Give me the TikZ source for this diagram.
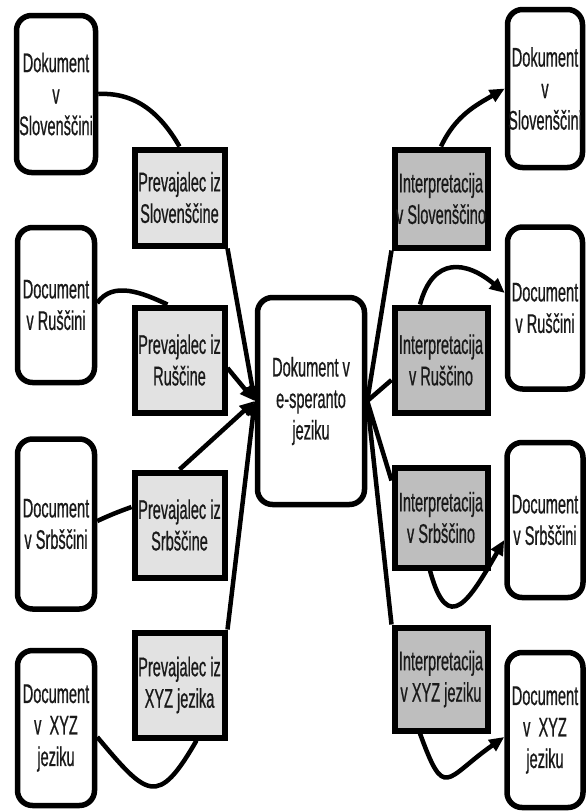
\documentclass[tikz,border=0pt]{standalone}
\usepackage{fontspec}
\setmainfont[FakeStretch=0.54,FakeBold=0.6]{Liberation Sans}
\usetikzlibrary{arrows.meta}
\definecolor{lightg}{HTML}{E2E2E2}
\definecolor{darkg}{HTML}{BEBEBE}
\definecolor{txt}{HTML}{1A1A1A}
\begin{document}
\begin{tikzpicture}[x=1pt,y=1pt,
  lbl/.style={align=center, inner sep=0pt, text=txt, font=\fontsize{27}{31.5}\selectfont},
  doc/.style={lbl, draw=black, line width=5.5pt, rounded corners=15pt, fill=white},
  prev/.style={lbl, draw=black, line width=6pt, fill=lightg, minimum width=90},
  interp/.style={prev, fill=darkg, minimum width=93},
  conn/.style={line width=4.5pt},
  arr/.style={conn, -{Triangle[length=15pt,width=13pt]}}]
\useasboundingbox (0,0) rectangle (587,-812);

% left documents
\node[doc, minimum width=79, minimum height=157] (L1) at (56,-94) {Dokument\\v\\Slovenščini};
\node[doc, minimum width=77, minimum height=155] (L2) at (56,-305) {Document\\v Ruščini};
\node[doc, minimum width=77, minimum height=170] (L3) at (56,-524) {Document\\v Srbščini};
\node[doc, minimum width=77, minimum height=155] (L4) at (56,-728) {Document\\v~ XYZ\\jeziku};

% right documents
\node[doc, minimum width=75, minimum height=158] (R1) at (545,-88.5) {Dokument\\v\\Slovenščini};
\node[doc, minimum width=75, minimum height=162] (R2) at (545,-308) {Document\\v Ruščini};
\node[doc, minimum width=76, minimum height=155] (R3) at (545,-520) {Document\\v Srbščini};
\node[doc, minimum width=76, minimum height=155] (R4) at (545,-730) {Document\\v~ XYZ\\jeziku};

% centre
\node[doc, minimum width=107, minimum height=207] (C) at (311,-401) {Dokument v\\e-speranto\\jeziku};

% translators
\node[prev, minimum height=96]  (P1) at (179.5,-197.5) {Prevajalec iz\\Slovenščine};
\node[prev, minimum height=105] (P2) at (179.5,-360) {Prevajalec iz\\Ruščine};
\node[prev, minimum height=105] (P3) at (179.5,-525) {Prevajalec iz\\Srbščine};
\node[prev, minimum height=105] (P4) at (179.5,-685) {Prevajalec iz\\XYZ jezika};

% interpreters
\node[interp, minimum height=98]  (I1) at (441,-198.5) {Interpretacija\\v Slovenščino};
\node[interp, minimum height=105] (I2) at (441,-360) {Interpretacija\\v Ruščino};
\node[interp, minimum height=100] (I3) at (441,-517.5) {Interpretacija\\v Srbščino};
\node[interp, minimum height=103] (I4) at (441,-679) {Interpretacija\\v XYZ jeziku};

% left connectors
\draw[conn] (L1.east) to[out=3,in=120] (P1.north);
\draw[arr] (P1.south east) -- (C.west);
\draw[conn] ([yshift=2pt]L2.east) to[out=55,in=155] ([xshift=-12pt]P2.north);
\draw[arr] ([yshift=-8pt]P2.east) -- (C.west);
\draw[conn] ([yshift=3pt]L3.east) to[out=25,in=200] ([yshift=18pt]P3.west);
\draw[arr] (P3.north) -- (C.west);
\draw[arr] (P4.north east) -- (C.west);
\draw[conn] ([yshift=-9pt]L4.east) to[out=-50,in=-120,looseness=2] ([xshift=17pt]P4.south);

% right connectors
\draw[conn] (C.east) -- (I1.south west);
\draw[arr] (I1.north) to[out=65,in=210] (R1.west);
\draw[conn] (C.east) -- ([yshift=-20pt]I2.west);
\draw[arr] ([xshift=-21pt]I2.north) to[out=75,in=140,looseness=1.5] ([yshift=15pt]R2.west);
\draw[conn] (C.east) -- ([yshift=37pt]I3.west);
\draw[arr] ([xshift=-11pt]I3.south) to[out=-75,in=240,looseness=2.2] ([yshift=-20pt]R3.west);
\draw[conn] (C.east) -- (I4.north west);
\draw[arr] ([xshift=-21pt]I4.south) to[out=-70,in=215,looseness=2.2] ([yshift=-7pt]R4.west);
\end{tikzpicture}
\end{document}
